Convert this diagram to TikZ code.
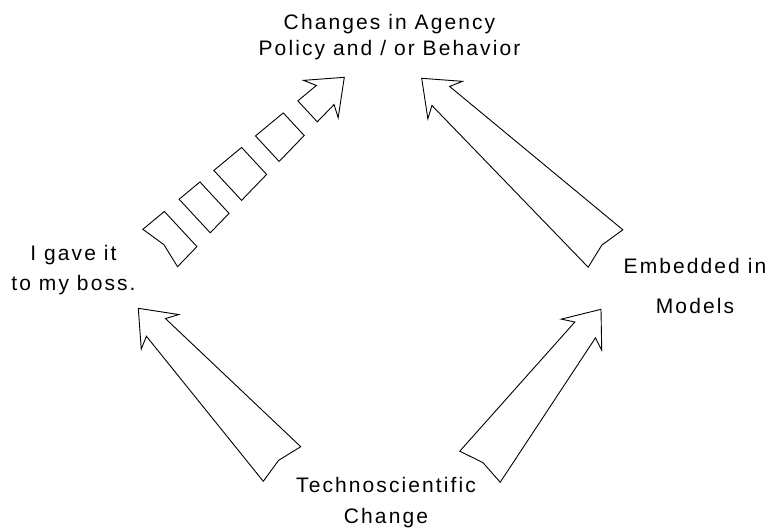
\documentclass[tikz,border=0pt]{standalone}
\usepackage{fontspec}
\setmainfont{Liberation Sans}[LetterSpace=10]
\usetikzlibrary{calc}

% point on the shaft of block arrow #1: fraction #2 from tail to head base,
% offset #3 (pt) to the side given by angle #4
\newcommand\onshaft[4]{($(#1-T)!#2!(#1-N)!#3pt!#4:(#1-N)$)}

% head base (N) and barb line (B) of block arrow #1
\newcommand\headpoints[1]{%
  \coordinate (#1-N) at ($(#1-P)!26pt!(#1-T)$);
  \coordinate (#1-B) at ($(#1-P)!32pt!(#1-T)$);}

% complete solid block arrow with swallow tail and swept-back barbs
\newcommand\blockarrow[1]{%
  \headpoints{#1}
  \draw[blk] \onshaft{#1}{0}{25.5}{90} -- ($(#1-T)!5pt!(#1-N)$)
    -- \onshaft{#1}{0}{25.5}{-90}
    -- ($(#1-N)!13pt!-90:(#1-P)$) -- ($(#1-B)!25.5pt!-90:(#1-P)$)
    -- (#1-P)
    -- ($(#1-B)!25.5pt!90:(#1-P)$) -- ($(#1-N)!13pt!90:(#1-P)$)
    -- cycle;}

\tikzset{
  lbl/.style={font=\fontsize{21}{#1}\selectfont, align=center,
    inner sep=0pt, anchor=base},
  blk/.style={draw=black, fill=white, line width=0.9pt, line join=miter},
}

\begin{document}
\begin{tikzpicture}[x=1pt, y=-1pt]
  \useasboundingbox (0,0) rectangle (774,531);

  % labels (placed by the baseline of their last line)
  \node[lbl=25.7] (changes)  at (389.5,55)    {Changes in Agency\\Policy and / or Behavior};
  \node[lbl=30]   (gave)     at (73.5,290.7)  {I gave it\\to my boss.};
  \node[lbl=40]   (embedded) at (695,313.5)   {Embedded in\\Models};
  \node[lbl=30.6] (techno)   at (386,523.3)   {Technoscientific\\Change};

  % arrow ends
  \coordinate (tg-T) at (282,464);     \coordinate (tg-P) at (138.3,308.3);
  \coordinate (te-T) at (480,466.7);   \coordinate (te-P) at (601,309.3);
  \coordinate (ec-T) at (605.5,248.5); \coordinate (ec-P) at (421.7,78.3);
  \coordinate (gc-T) at (160.2,248);   \coordinate (gc-P) at (344.3,77.3);

  % solid arrows
  \blockarrow{tg}
  \blockarrow{te}
  \blockarrow{ec}

  % broken arrow: tail piece, three segments, head piece
  \headpoints{gc}
  \draw[blk] \onshaft{gc}{0}{25.5}{90} -- ($(gc-T)!5pt!(gc-N)$)
    -- \onshaft{gc}{0}{25.5}{-90} -- \onshaft{gc}{0.124}{23.95}{-90}
    -- \onshaft{gc}{0.124}{23.95}{90} -- cycle;
  \draw[blk] \onshaft{gc}{0.209}{22.9}{90} -- \onshaft{gc}{0.209}{22.9}{-90}
    -- \onshaft{gc}{0.329}{21.4}{-90} -- \onshaft{gc}{0.329}{21.4}{90} -- cycle;
  \draw[blk] \onshaft{gc}{0.409}{20.4}{90} -- \onshaft{gc}{0.409}{20.4}{-90}
    -- \onshaft{gc}{0.569}{18.4}{-90} -- \onshaft{gc}{0.569}{18.4}{90} -- cycle;
  \draw[blk] \onshaft{gc}{0.649}{17.4}{90} -- \onshaft{gc}{0.649}{17.4}{-90}
    -- \onshaft{gc}{0.809}{15.4}{-90} -- \onshaft{gc}{0.809}{15.4}{90} -- cycle;
  \draw[blk] \onshaft{gc}{0.893}{14.3}{90} -- \onshaft{gc}{0.893}{14.3}{-90}
    -- ($(gc-N)!13pt!-90:(gc-P)$) -- ($(gc-B)!25.5pt!-90:(gc-P)$)
    -- (gc-P)
    -- ($(gc-B)!25.5pt!90:(gc-P)$) -- ($(gc-N)!13pt!90:(gc-P)$) -- cycle;
\end{tikzpicture}
\end{document}
